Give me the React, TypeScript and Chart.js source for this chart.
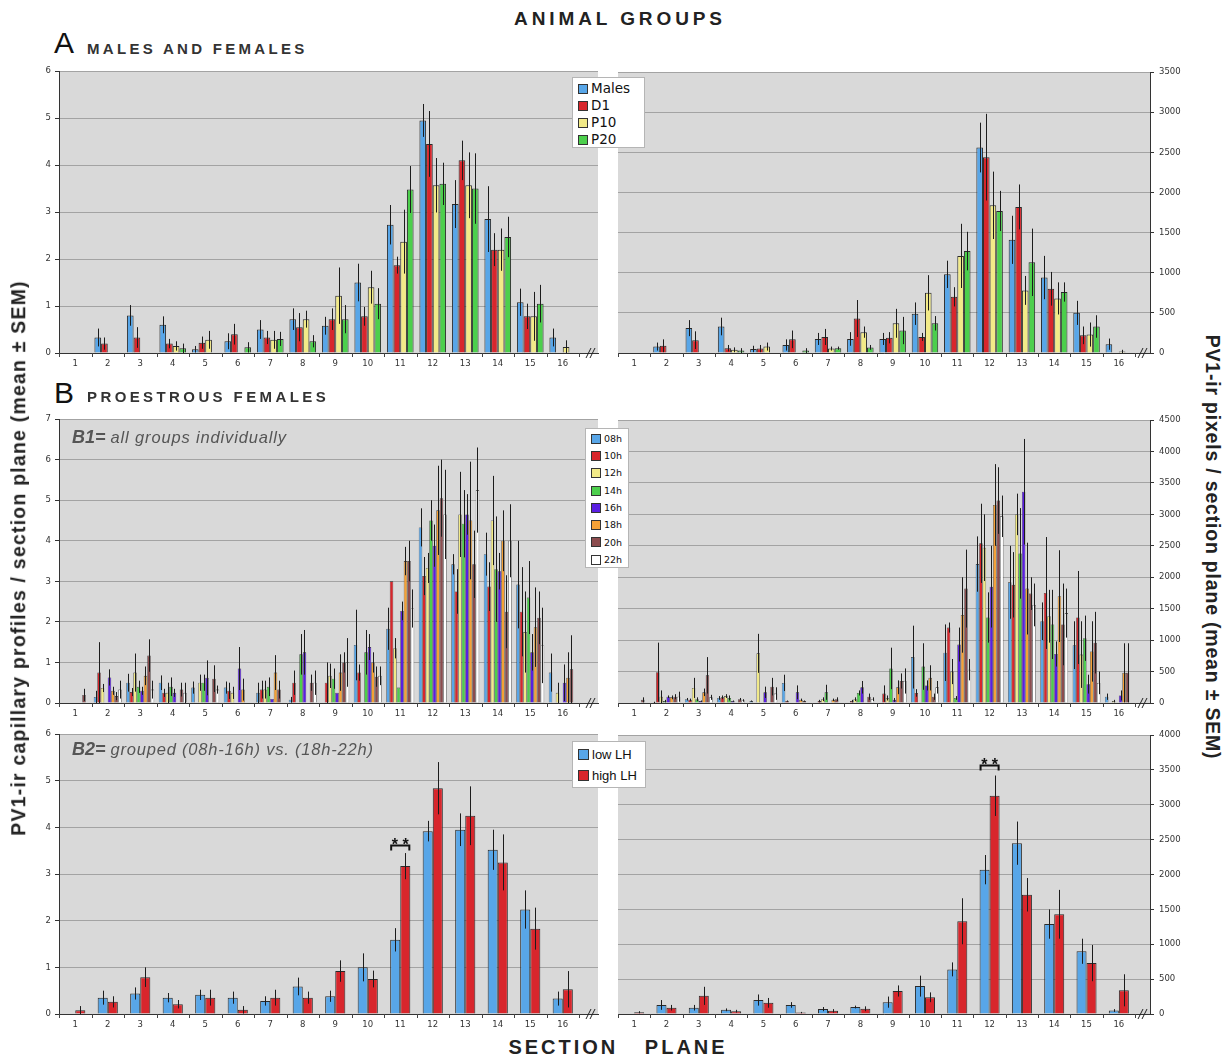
import React, { useEffect, useRef } from "react";
import { Chart, registerables } from "chart.js";

Chart.register(...registerables);

const FONT = "'Liberation Sans', Arial, Helvetica, sans-serif";
const TICK_FONT = "'DejaVu Sans', Verdana, sans-serif";

// ---------- categories ----------
const SECTIONS = [1, 2, 3, 4, 5, 6, 7, 8, 9, 10, 11, 12, 13, 14, 15, 16];

// ---------- colours ----------
const C_BLUE = "#58a6e8";
const C_RED = "#d8262c";
const C_YELLOW = "#f2ea88";
const C_GREEN = "#4ccf4c";
const C_PURPLE = "#5a1ee2";
const C_ORANGE = "#f5a136";
const C_BROWN = "#8c4c4e";
const C_WHITE = "#ffffff";

// ---------- Panel A (left: profiles, right: pixels) ----------
const A_LABELS = ["Males", "D1", "P10", "P20"];
const A_L_MALES = [0, 0.33, 0.8, 0.6, 0.08, 0.25, 0.5, 0.72, 0.58, 1.5, 2.73, 4.95, 3.17, 2.85, 1.08, 0.33];
const A_L_D1 = [0, 0.2, 0.33, 0.2, 0.22, 0.4, 0.33, 0.55, 0.72, 0.78, 1.87, 4.45, 4.1, 2.2, 0.78, 0];
const A_L_P10 = [0, 0, 0, 0.15, 0.28, 0, 0.28, 0.72, 1.22, 1.4, 2.37, 3.57, 3.57, 2.2, 0.78, 0.13];
const A_L_P20 = [0, 0, 0, 0.1, 0, 0.12, 0.3, 0.25, 0.72, 1.05, 3.48, 3.6, 3.5, 2.47, 1.05, 0];
const A_L_MALES_SEM = [0, 0.19, 0.22, 0.18, 0.07, 0.17, 0.2, 0.23, 0.19, 0.4, 0.42, 0.35, 0.51, 0.7, 0.29, 0.19];
const A_L_D1_SEM = [0, 0.13, 0.22, 0.1, 0.13, 0.22, 0.14, 0.3, 0.23, 0.2, 0.18, 0.7, 0.42, 0.35, 0.27, 0];
const A_L_P10_SEM = [0, 0, 0, 0.1, 0.19, 0, 0.19, 0.18, 0.6, 0.35, 0.68, 0.58, 0.7, 0.45, 0.52, 0.14];
const A_L_P20_SEM = [0, 0, 0, 0.1, 0, 0.11, 0.15, 0.13, 0.3, 0.33, 0.5, 0.45, 0.75, 0.43, 0.4, 0];

const A_R_MALES = [0, 80, 310, 330, 50, 100, 175, 175, 175, 490, 980, 2560, 1410, 940, 500, 110];
const A_R_D1 = [0, 90, 160, 60, 55, 170, 200, 430, 190, 200, 700, 2440, 1820, 800, 220, 0];
const A_R_P10 = [0, 0, 0, 40, 80, 0, 55, 260, 370, 750, 1210, 1840, 780, 680, 230, 20];
const A_R_P20 = [0, 0, 0, 30, 0, 30, 60, 70, 280, 370, 1270, 1770, 1130, 760, 330, 0];
const A_R_MALES_SEM = [0, 50, 100, 110, 40, 70, 75, 85, 75, 140, 170, 310, 300, 270, 150, 70];
const A_R_D1_SEM = [0, 80, 110, 40, 45, 110, 100, 230, 70, 50, 120, 540, 280, 210, 110, 0];
const A_R_P10_SEM = [0, 0, 0, 30, 50, 0, 25, 70, 180, 220, 400, 420, 180, 200, 150, 20];
const A_R_P20_SEM = [0, 0, 0, 30, 0, 30, 20, 30, 170, 90, 240, 250, 420, 120, 140, 0];

// ---------- Panel B1 (all groups individually) ----------
const B1_LABELS = ["08h", "10h", "12h", "14h", "16h", "18h", "20h", "22h"];
const B1_L_08 = [0, 0.15, 0.5, 0.5, 0.38, 0.38, 0.25, 0.08, 0, 1.43, 1.83, 4.33, 3.42, 3.67, 2.92, 0.75];
const B1_L_10 = [0, 0.75, 0.27, 0.25, 0, 0.3, 0.33, 0.5, 0.5, 0.75, 3.0, 3.13, 2.75, 2.87, 2.25, 0];
const B1_L_12 = [0, 0.37, 0.75, 0.25, 0.5, 0.25, 0.33, 0, 0.67, 0, 1.35, 3.33, 4.65, 4.5, 1.75, 0.25];
const B1_L_14 = [0, 0, 0.4, 0.4, 0.5, 0, 0.4, 1.2, 0.6, 1.25, 0.38, 4.5, 4.42, 3.3, 2.6, 0];
const B1_L_16 = [0, 0.63, 0.3, 0.25, 0.62, 0.85, 0.1, 1.25, 0.25, 1.38, 2.27, 3.88, 4.65, 3.25, 1.25, 0.5];
const B1_L_18 = [0, 0.3, 0.67, 0, 0, 0.33, 0.75, 0, 0.75, 1.0, 3.5, 4.75, 4.5, 4.0, 1.87, 0.62];
const B1_L_20 = [0.2, 0.17, 1.17, 0.33, 0.6, 0, 0.33, 0.5, 1.0, 0.65, 3.5, 5.05, 3.42, 2.25, 2.1, 0.83];
const B1_L_22 = [0, 0.33, 0.33, 0.25, 0.33, 0, 0, 0.5, 1.0, 0.67, 2.33, 4.65, 5.25, 4.0, 1.42, 0];
const B1_L_08_SEM = [0, 0.15, 0.22, 0.18, 0.15, 0.15, 0.25, 0.07, 0, 0.87, 0.52, 0.47, 0.25, 0.53, 1.08, 0.47];
const B1_L_10_SEM = [0, 0.75, 0.1, 0.1, 0, 0.2, 0.22, 0.3, 0.5, 0.2, 0, 0.47, 0.55, 0.6, 1.1, 0];
const B1_L_12_SEM = [0, 0.1, 0.47, 0.25, 0.2, 0.15, 0.22, 0, 0.3, 0, 0.25, 0.37, 1.05, 1.1, 1.0, 0.25];
const B1_L_14_SEM = [0, 0, 0.15, 0.23, 0.2, 0, 0.23, 0.5, 0.25, 0.55, 0, 0.5, 0.83, 1.3, 0.9, 0];
const B1_L_16_SEM = [0, 0.2, 0.1, 0.1, 0.43, 0.53, 0, 0.55, 0, 0.32, 0.23, 0.52, 0.5, 0.45, 0.45, 0.45];
const B1_L_18_SEM = [0, 0.1, 0.23, 0, 0, 0.27, 0.43, 0, 0.45, 0.25, 0.35, 1.1, 1.45, 0.75, 0.98, 0.63];
const B1_L_20_SEM = [0.15, 0.1, 0.4, 0.17, 0.33, 0, 0.22, 0.2, 0.25, 0.25, 0.5, 0.95, 0.83, 0.9, 0.65, 0.84];
const B1_L_22_SEM = [0, 0.22, 0.22, 0.25, 0.1, 0, 0, 0.3, 0.6, 0.23, 0.47, 1.1, 1.05, 0.9, 0.93, 0];

const B1_R_08 = [0, 10, 60, 80, 30, 320, 0, 0, 0, 730, 800, 2210, 1920, 1300, 920, 100];
const B1_R_10 = [0, 490, 50, 90, 0, 30, 30, 30, 150, 160, 1200, 2540, 1880, 1750, 1360, 0];
const B1_R_12 = [0, 100, 240, 110, 790, 0, 60, 60, 80, 0, 500, 2470, 3000, 1380, 770, 30];
const B1_R_14 = [0, 30, 60, 80, 0, 0, 170, 160, 550, 580, 80, 1360, 2380, 1250, 1030, 0];
const B1_R_16 = [0, 100, 30, 30, 170, 170, 0, 250, 50, 280, 930, 1850, 3360, 780, 300, 120];
const B1_R_18 = [0, 90, 170, 0, 0, 50, 50, 0, 250, 400, 1400, 3150, 1820, 1700, 820, 480];
const B1_R_20 = [50, 100, 440, 60, 260, 30, 60, 100, 350, 100, 1820, 3220, 1740, 1250, 960, 480];
const B1_R_22 = [0, 100, 90, 40, 150, 0, 0, 60, 350, 250, 530, 2970, 1560, 1430, 320, 0];
const B1_R_08_SEM = [0, 10, 20, 30, 10, 130, 0, 0, 0, 500, 450, 440, 580, 300, 380, 50];
const B1_R_10_SEM = [0, 470, 20, 30, 0, 10, 20, 20, 130, 60, 80, 630, 520, 890, 740, 0];
const B1_R_12_SEM = [0, 100, 160, 30, 310, 0, 30, 30, 40, 0, 200, 530, 330, 420, 530, 20];
const B1_R_14_SEM = [0, 20, 30, 40, 0, 0, 120, 40, 330, 370, 30, 400, 720, 550, 360, 0];
const B1_R_16_SEM = [0, 20, 10, 10, 90, 110, 0, 100, 30, 80, 270, 650, 840, 200, 150, 80];
const B1_R_18_SEM = [0, 30, 60, 0, 0, 20, 20, 0, 110, 200, 600, 650, 730, 730, 480, 470];
const B1_R_20_SEM = [40, 40, 290, 20, 140, 10, 30, 50, 120, 50, 620, 530, 260, 650, 490, 470];
const B1_R_22_SEM = [0, 80, 40, 20, 100, 0, 0, 30, 200, 100, 170, 330, 340, 390, 180, 0];

// ---------- Panel B2 (grouped low LH vs high LH) ----------
const B2_LABELS = ["low LH", "high LH"];
const B2_L_LOW = [0, 0.35, 0.44, 0.35, 0.41, 0.35, 0.28, 0.59, 0.38, 1.0, 1.59, 3.92, 3.95, 3.52, 2.24, 0.33];
const B2_L_HIGH = [0.08, 0.26, 0.79, 0.21, 0.35, 0.09, 0.35, 0.35, 0.92, 0.75, 3.17, 4.84, 4.25, 3.25, 1.83, 0.53];
const B2_L_LOW_SEM = [0, 0.15, 0.13, 0.1, 0.11, 0.13, 0.1, 0.19, 0.12, 0.3, 0.25, 0.22, 0.35, 0.43, 0.41, 0.15];
const B2_L_HIGH_SEM = [0.09, 0.12, 0.21, 0.09, 0.17, 0.08, 0.17, 0.13, 0.23, 0.18, 0.28, 0.56, 0.63, 0.6, 0.45, 0.39];

const B2_R_LOW = [0, 130, 90, 60, 200, 130, 70, 100, 170, 400, 640, 2070, 2450, 1290, 900, 50];
const B2_R_HIGH = [25, 90, 260, 40, 160, 20, 45, 75, 330, 240, 1330, 3130, 1710, 1430, 730, 340];
const B2_R_LOW_SEM = [0, 70, 40, 20, 80, 40, 30, 20, 80, 150, 100, 210, 310, 210, 180, 20];
const B2_R_HIGH_SEM = [15, 40, 130, 20, 70, 10, 25, 35, 80, 70, 330, 290, 240, 350, 260, 230];

// ---------- axis ranges ----------
const Y_A_LEFT = { max: 6, step: 1 };
const Y_A_RIGHT = { max: 3500, step: 500 };
const Y_B1_LEFT = { max: 7, step: 1 };
const Y_B1_RIGHT = { max: 4500, step: 500 };
const Y_B2_LEFT = { max: 6, step: 1 };
const Y_B2_RIGHT = { max: 4000, step: 500 };

type Series = { label: string; color: string; values: number[]; sem: number[] };

const mk = (labels: string[], colors: string[], vals: number[][], sems: number[][]): Series[] =>
  labels.map((l, i) => ({ label: l, color: colors[i], values: vals[i], sem: sems[i] }));

const A_COLORS = [C_BLUE, C_RED, C_YELLOW, C_GREEN];
const B1_COLORS = [C_BLUE, C_RED, C_YELLOW, C_GREEN, C_PURPLE, C_ORANGE, C_BROWN, C_WHITE];
const B2_COLORS = [C_BLUE, C_RED];

const A_LEFT = mk(A_LABELS, A_COLORS, [A_L_MALES, A_L_D1, A_L_P10, A_L_P20], [A_L_MALES_SEM, A_L_D1_SEM, A_L_P10_SEM, A_L_P20_SEM]);
const A_RIGHT = mk(A_LABELS, A_COLORS, [A_R_MALES, A_R_D1, A_R_P10, A_R_P20], [A_R_MALES_SEM, A_R_D1_SEM, A_R_P10_SEM, A_R_P20_SEM]);
const B1_LEFT = mk(B1_LABELS, B1_COLORS,
  [B1_L_08, B1_L_10, B1_L_12, B1_L_14, B1_L_16, B1_L_18, B1_L_20, B1_L_22],
  [B1_L_08_SEM, B1_L_10_SEM, B1_L_12_SEM, B1_L_14_SEM, B1_L_16_SEM, B1_L_18_SEM, B1_L_20_SEM, B1_L_22_SEM]);
const B1_RIGHT = mk(B1_LABELS, B1_COLORS,
  [B1_R_08, B1_R_10, B1_R_12, B1_R_14, B1_R_16, B1_R_18, B1_R_20, B1_R_22],
  [B1_R_08_SEM, B1_R_10_SEM, B1_R_12_SEM, B1_R_14_SEM, B1_R_16_SEM, B1_R_18_SEM, B1_R_20_SEM, B1_R_22_SEM]);
const B2_LEFT = mk(B2_LABELS, B2_COLORS, [B2_L_LOW, B2_L_HIGH], [B2_L_LOW_SEM, B2_L_HIGH_SEM]);
const B2_RIGHT = mk(B2_LABELS, B2_COLORS, [B2_R_LOW, B2_R_HIGH], [B2_R_LOW_SEM, B2_R_HIGH_SEM]);

// ---------- decoration plugin: plot background, error bars, boundary ticks, axis break, significance ----------
const decoPlugin = {
  id: "deco",
  beforeDraw(chart: any) {
    const { ctx, chartArea: a } = chart;
    ctx.save();
    ctx.fillStyle = "#d9d9d9";
    ctx.fillRect(a.left, a.top, a.right - a.left, a.bottom - a.top);
    ctx.restore();
  },
  afterDatasetsDraw(chart: any, _args: any, opts: any) {
    const { ctx, chartArea: a } = chart;
    const yS = chart.scales.y;
    const xS = chart.scales.x;
    ctx.save();
    // error bars (mean ± SEM)
    ctx.strokeStyle = "#1c1c1c";
    ctx.lineWidth = 1;
    chart.data.datasets.forEach((ds: any, di: number) => {
      const meta = chart.getDatasetMeta(di);
      meta.data.forEach((el: any, i: number) => {
        const v = ds.data[i].y;
        const e = ds.sem[i];
        if (!e) return;
        const x = Math.round(el.x) + 0.5;
        const y1 = yS.getPixelForValue(v + e);
        const y0 = yS.getPixelForValue(Math.max(0, v - e));
        ctx.beginPath();
        ctx.moveTo(x, y0);
        ctx.lineTo(x, y1);
        ctx.stroke();
      });
    });
    // category boundary tick marks on the x axis
    ctx.strokeStyle = "#444";
    for (let k = 0; k <= SECTIONS.length; k++) {
      const x = Math.round(xS.getPixelForValue(SECTIONS[0] - 0.5 + k)) + 0.5;
      ctx.beginPath();
      ctx.moveTo(x, a.bottom);
      ctx.lineTo(x, a.bottom + 4);
      ctx.stroke();
    }
    // axis break "//"
    const bx = a.right - 9;
    ctx.strokeStyle = "#222";
    ctx.lineWidth = 1;
    for (const dx of [0, 4]) {
      ctx.beginPath();
      ctx.moveTo(bx + dx - 3, a.bottom + 5);
      ctx.lineTo(bx + dx + 2, a.bottom - 5);
      ctx.stroke();
    }
    // significance bracket
    if (opts && opts.sig) {
      const idx = SECTIONS.indexOf(opts.sig.cat);
      const e0 = chart.getDatasetMeta(0).data[idx];
      const e1 = chart.getDatasetMeta(1).data[idx];
      const xl = e0.x - e0.width / 2 + 1;
      const xr = e1.x + e1.width / 2 - 1;
      const yb = Math.round(yS.getPixelForValue(opts.sig.y)) + 0.5;
      ctx.strokeStyle = "#111";
      ctx.lineWidth = 2;
      ctx.beginPath();
      ctx.moveTo(xl, yb + 5);
      ctx.lineTo(xl, yb);
      ctx.lineTo(xr, yb);
      ctx.lineTo(xr, yb + 5);
      ctx.stroke();
      ctx.fillStyle = "#111";
      ctx.font = `bold 16px ${FONT}`;
      ctx.textAlign = "center";
      ctx.textBaseline = "alphabetic";
      ctx.fillText("* *", (xl + xr) / 2, yb + 4);
    }
    ctx.restore();
  },
};

type Geom = { left: number; right: number; top: number; bottom: number };

const COL_L = { left: 59, right: 598 };
const COL_R = { left: 618, right: 1150 };
const ROW_A = { top: 70, bottom: 353 };
const ROW_B1 = { top: 418, bottom: 703 };
const ROW_B2 = { top: 733, bottom: 1014 };

function Panel(props: {
  geom: Geom;
  side: "left" | "right";
  yRange: { max: number; step: number };
  series: Series[];
  catPct: number;
  borderW: number;
  extra: number;
  sig?: { cat: number; y: number };
}) {
  const { geom, side, yRange, series, catPct, borderW, extra, sig } = props;
  const ref = useRef<HTMLCanvasElement>(null);
  const axisW = side === "left" ? 45 : 50;
  const cLeft = side === "left" ? geom.left - axisW : geom.left - 2;
  const cRight = side === "left" ? geom.right + 2 : geom.right + axisW;
  const cTop = geom.top - 8;
  const W = cRight - cLeft;
  const H = geom.bottom - geom.top + 30;

  useEffect(() => {
    const catPx = (geom.right - geom.left - extra) / SECTIONS.length;
    const xMax = SECTIONS[SECTIONS.length - 1] + 0.5 + extra / catPx;
    const chart = new Chart(ref.current as HTMLCanvasElement, {
      type: "bar",
      data: {
        datasets: series.map((s) => ({
          label: s.label,
          data: SECTIONS.map((x, i) => ({ x, y: s.values[i] })),
          sem: s.sem,
          backgroundColor: s.color,
          borderColor: "#2a2a2a",
          borderWidth: borderW,
          categoryPercentage: catPct,
          barPercentage: 1,
        })) as any,
      },
      options: {
        animation: false,
        responsive: false,
        devicePixelRatio: 1,
        events: [],
        layout: {
          padding: side === "left" ? { left: 0, right: 2, top: 8, bottom: 0 } : { left: 2, right: 0, top: 8, bottom: 0 },
        },
        plugins: {
          legend: { display: false },
          tooltip: { enabled: false },
          deco: { sig },
        } as any,
        scales: {
          x: {
            type: "linear",
            offset: false,
            min: SECTIONS[0] - 0.5,
            max: xMax,
            afterBuildTicks: (s: any) => {
              s.ticks = SECTIONS.map((v) => ({ value: v }));
            },
            afterFit: (s: any) => {
              s.height = 22;
            },
            grid: { display: false, drawTicks: false, offset: false },
            border: { display: true, color: "#333", width: 1 },
            ticks: {
              autoSkip: false,
              maxRotation: 0,
              padding: 6,
              color: "#333",
              font: { family: TICK_FONT, size: 8.5 },
              callback: (v: any) => String(v),
            },
          },
          y: {
            position: side,
            min: 0,
            max: yRange.max,
            afterFit: (s: any) => {
              s.width = axisW;
            },
            grid: { color: "#a3a3a3", lineWidth: 1, drawTicks: true, tickLength: 4, tickColor: "#333" },
            border: { display: true, color: "#333", width: 1 },
            ticks: {
              stepSize: yRange.step,
              padding: side === "left" ? 4 : 5,
              color: "#333",
              font: { family: TICK_FONT, size: 8.5 },
              callback: (v: any) => String(v),
            },
          },
        } as any,
      },
      plugins: [decoPlugin],
    });
    return () => chart.destroy();
  }, []);

  return (
    <div style={{ position: "absolute", left: cLeft, top: cTop, width: W, height: H }}>
      <canvas ref={ref} width={W} height={H} style={{ width: W, height: H, display: "block" }} />
    </div>
  );
}

function Legend(props: {
  left: number;
  top: number;
  width: number;
  height: number;
  items: { label: string; color: string }[];
  rowH: number;
  fontSize: number;
  sw: number;
  font: string;
  padTop: number;
}) {
  const { left, top, width, height, items, rowH, fontSize, sw, font, padTop } = props;
  return (
    <div
      style={{
        position: "absolute",
        left,
        top,
        width,
        height,
        boxSizing: "border-box",
        background: "#fff",
        border: "1px solid #b5b5b5",
        zIndex: 5,
      }}
    >
      {items.map((it, i) => (
        <div
          key={it.label}
          style={{
            position: "absolute",
            left: 5,
            top: padTop + i * rowH,
            height: rowH,
            display: "flex",
            alignItems: "center",
            whiteSpace: "nowrap",
          }}
        >
          <span
            style={{
              display: "inline-block",
              width: sw,
              height: sw,
              background: it.color,
              border: "1px solid #333",
              boxSizing: "border-box",
              marginRight: 3,
            }}
          />
          <span style={{ fontFamily: font, fontSize, color: "#111", lineHeight: 1 }}>{it.label}</span>
        </div>
      ))}
    </div>
  );
}

const txt = (style: React.CSSProperties, content: React.ReactNode) => (
  <div style={{ position: "absolute", whiteSpace: "nowrap", lineHeight: 1, zIndex: 6, ...style }}>{content}</div>
);

export default function App() {
  useEffect(() => {
    document.body.style.margin = "0";
  }, []);
  const legA = A_LABELS.map((l, i) => ({ label: l, color: A_COLORS[i] }));
  const legB1 = B1_LABELS.map((l, i) => ({ label: l, color: B1_COLORS[i] }));
  const legB2 = B2_LABELS.map((l, i) => ({ label: l, color: B2_COLORS[i] }));
  return (
    <div style={{ position: "absolute", left: 0, top: 0, width: 1230, height: 1058, background: "#fff", overflow: "hidden", fontFamily: FONT }}>
      {txt({ left: 0, width: 1240, textAlign: "center", top: 9, fontSize: 19, fontWeight: 700, letterSpacing: 3.9, color: "#222" }, "ANIMAL GROUPS")}
      {txt({ left: 54, top: 28, fontSize: 30, color: "#111" }, "A")}
      {txt({ left: 87, top: 40.5, fontSize: 15, fontWeight: 700, letterSpacing: 3.3, color: "#333" }, "MALES AND FEMALES")}
      {txt({ left: 54, top: 378, fontSize: 30, color: "#111" }, "B")}
      {txt({ left: 87, top: 389, fontSize: 15, fontWeight: 700, letterSpacing: 3.4, color: "#333" }, "PROESTROUS FEMALES")}

      <Panel geom={{ ...COL_L, ...ROW_A }} side="left" yRange={Y_A_LEFT} series={A_LEFT} catPct={0.82} borderW={1} extra={19} />
      <Panel geom={{ ...COL_R, ...ROW_A }} side="right" yRange={Y_A_RIGHT} series={A_RIGHT} catPct={0.82} borderW={1} extra={15} />
      <Panel geom={{ ...COL_L, ...ROW_B1 }} side="left" yRange={Y_B1_LEFT} series={B1_LEFT} catPct={0.86} borderW={0.6} extra={19} />
      <Panel geom={{ ...COL_R, ...ROW_B1 }} side="right" yRange={Y_B1_RIGHT} series={B1_RIGHT} catPct={0.86} borderW={0.6} extra={15} />
      <Panel geom={{ ...COL_L, ...ROW_B2 }} side="left" yRange={Y_B2_LEFT} series={B2_LEFT} catPct={0.62} borderW={1} extra={19} sig={{ cat: 11, y: 3.62 }} />
      <Panel geom={{ ...COL_R, ...ROW_B2 }} side="right" yRange={Y_B2_RIGHT} series={B2_RIGHT} catPct={0.62} borderW={1} extra={15} sig={{ cat: 12, y: 3570 }} />

      {txt({ left: 72, top: 428, color: "#555", fontStyle: "italic" }, (
        <span>
          <span style={{ fontSize: 18, fontWeight: 700 }}>B1= </span>
          <span style={{ fontSize: 16.5, letterSpacing: 0.85 }}>all groups individually</span>
        </span>
      ))}
      {txt({ left: 72, top: 740, color: "#555", fontStyle: "italic" }, (
        <span>
          <span style={{ fontSize: 18, fontWeight: 700 }}>B2= </span>
          <span style={{ fontSize: 16.5, letterSpacing: 0.8 }}>grouped (08h-16h) vs. (18h-22h)</span>
        </span>
      ))}

      <Legend left={572} top={77} width={73} height={71} items={legA} rowH={17} fontSize={13.5} sw={10} font={"'DejaVu Sans', Verdana, sans-serif"} padTop={2} />
      <Legend left={585} top={428} width={44} height={140} items={legB1} rowH={17.3} fontSize={9.5} sw={10} font={"'DejaVu Sans', Verdana, sans-serif"} padTop={1} />
      <Legend left={572} top={741} width={74} height={47} items={legB2} rowH={21} fontSize={13} sw={11} font={FONT} padTop={2} />

      {txt({ left: 19, top: 558, transform: "translate(-50%, -50%) rotate(-90deg)", fontSize: 19.5, fontWeight: 700, letterSpacing: 1.2, color: "#222" }, "PV1-ir capillary profiles / section plane (mean ± SEM)")}
      {txt({ left: 1212, top: 547, transform: "translate(-50%, -50%) rotate(90deg)", fontSize: 19.5, fontWeight: 700, letterSpacing: 0.8, color: "#222" }, "PV1-ir pixels / section plane (mean ± SEM)")}

      {txt({ left: 0, width: 1236, textAlign: "center", top: 1037, fontSize: 20, fontWeight: 700, letterSpacing: 3, wordSpacing: 18, color: "#222" }, "SECTION PLANE")}
    </div>
  );
}
